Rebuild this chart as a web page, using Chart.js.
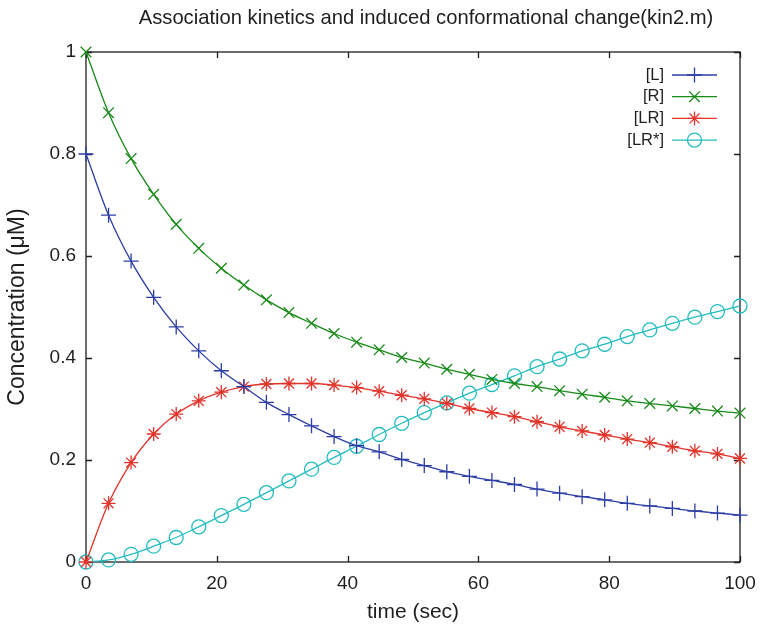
<!DOCTYPE html>
<html>
<head>
<meta charset="utf-8">
<title>Association kinetics</title>
<script src="https://cdn.jsdelivr.net/npm/chart.js@4/dist/chart.umd.min.js"></script>
<style>
  html, body { margin: 0; padding: 0; background: #fff; }
  canvas { display: block; }
</style>
</head>
<body>
<canvas id="kin" width="760" height="627"></canvas>
<script>
// Simulation output of kin2.m: sampled time points (s) and concentrations (µM)
const timeSec = [0, 3.448, 6.897, 10.345, 13.793, 17.241, 20.690, 24.138, 27.586, 31.034,
  34.483, 37.931, 41.379, 44.828, 48.276, 51.724, 55.172, 58.621, 62.069, 65.517,
  68.966, 72.414, 75.862, 79.310, 82.759, 86.207, 89.655, 93.103, 96.552, 100];

const concL = [0.800, 0.680, 0.590, 0.519, 0.461, 0.414, 0.375, 0.344, 0.313, 0.289,
  0.267, 0.246, 0.228, 0.216, 0.201, 0.189, 0.177, 0.168, 0.160, 0.152,
  0.143, 0.135, 0.128, 0.122, 0.115, 0.110, 0.105, 0.100, 0.096, 0.092];

const concR = [1.000, 0.881, 0.791, 0.721, 0.662, 0.615, 0.576, 0.543, 0.514, 0.489,
  0.468, 0.448, 0.431, 0.416, 0.401, 0.390, 0.378, 0.368, 0.358, 0.350,
  0.344, 0.336, 0.329, 0.323, 0.316, 0.311, 0.306, 0.301, 0.296, 0.292];

const concLR = [0.000, 0.115, 0.195, 0.251, 0.290, 0.316, 0.333, 0.344, 0.349, 0.350,
  0.350, 0.347, 0.342, 0.335, 0.327, 0.320, 0.311, 0.301, 0.293, 0.285,
  0.275, 0.265, 0.257, 0.249, 0.241, 0.234, 0.226, 0.218, 0.212, 0.203];

const concLRstar = [0.000, 0.004, 0.015, 0.031, 0.048, 0.069, 0.091, 0.113, 0.136, 0.159,
  0.182, 0.205, 0.227, 0.250, 0.272, 0.293, 0.312, 0.331, 0.348, 0.365,
  0.383, 0.398, 0.414, 0.427, 0.442, 0.455, 0.468, 0.480, 0.491, 0.502];

const seriesNames = ['[L]', '[R]', '[LR]', '[LR*]'];
const xTicks = [0, 20, 40, 60, 80, 100];
const yTicks = [0, 0.2, 0.4, 0.6, 0.8, 1];
const chartTitle = 'Association kinetics and induced conformational change(kin2.m)';

const FONT = '"Liberation Sans", Arial, Helvetica, sans-serif';
const INK = '#1e1e1e';

function pairs(ys) { return timeSec.map((t, i) => ({ x: t, y: ys[i] })); }

function series(label, ys, color, style, radius) {
  return {
    label, data: pairs(ys),
    borderColor: color, backgroundColor: color,
    borderWidth: 1.3,
    pointStyle: style, pointRadius: radius, pointHoverRadius: radius,
    pointBorderColor: color, pointBackgroundColor: 'rgba(0,0,0,0)',
    pointBorderWidth: 1.3,
    cubicInterpolationMode: 'monotone',
    clip: false, fill: false
  };
}

// Title line above the plot box
const headingPlugin = {
  id: 'heading',
  afterDraw(chart) {
    const { ctx, chartArea: a } = chart;
    ctx.save();
    ctx.font = '20.2px ' + FONT;
    ctx.fillStyle = INK;
    ctx.textAlign = 'center';
    ctx.textBaseline = 'middle';
    ctx.fillText(chartTitle, (a.left + a.right) / 2 + 13, 18);
    ctx.restore();
  }
};

// Boxed frame with inward tick marks on all four sides
const framePlugin = {
  id: 'frame',
  beforeDatasetsDraw(chart) {
    const { ctx, chartArea: a, scales: { x, y } } = chart;
    const len = 6;
    ctx.save();
    ctx.strokeStyle = INK;
    ctx.lineWidth = 1.3;
    ctx.strokeRect(a.left, a.top, a.right - a.left, a.bottom - a.top);
    ctx.beginPath();
    xTicks.forEach(v => {
      const px = Math.round(x.getPixelForValue(v)) + 0.5;
      ctx.moveTo(px, a.bottom); ctx.lineTo(px, a.bottom - len);
      ctx.moveTo(px, a.top); ctx.lineTo(px, a.top + len);
    });
    yTicks.forEach(v => {
      const py = Math.round(y.getPixelForValue(v)) + 0.5;
      ctx.moveTo(a.left, py); ctx.lineTo(a.left + len, py);
      ctx.moveTo(a.right, py); ctx.lineTo(a.right - len, py);
    });
    ctx.stroke();
    ctx.restore();
  }
};

// Key in the upper-right corner: right-aligned name, then a line sample with its marker
const keyPlugin = {
  id: 'key',
  afterDatasetsDraw(chart) {
    const { ctx, chartArea: a } = chart;
    const lineEnd = a.right - 23, lineStart = lineEnd - 45;
    const mid = (lineStart + lineEnd) / 2;
    ctx.save();
    ctx.font = '16.5px ' + FONT;
    ctx.textAlign = 'right';
    ctx.textBaseline = 'middle';
    chart.data.datasets.forEach((ds, i) => {
      const yy = a.top + 23 + i * 21.7;
      ctx.fillStyle = INK;
      ctx.fillText(ds.label, lineStart - 8, yy);
      ctx.strokeStyle = ds.borderColor;
      ctx.lineWidth = 1.3;
      ctx.beginPath(); ctx.moveTo(lineStart, yy); ctx.lineTo(lineEnd, yy); ctx.stroke();
      ctx.fillStyle = 'rgba(0,0,0,0)';
      Chart.helpers.drawPoint(ctx, {
        pointStyle: ds.pointStyle, radius: ds.pointRadius, rotation: 0, borderWidth: 1.3
      }, mid, yy);
    });
    ctx.restore();
  }
};

new Chart(document.getElementById('kin'), {
  type: 'line',
  data: {
    datasets: [
      series(seriesNames[0], concL, '#2c3ea6', 'cross', 7.5),
      series(seriesNames[1], concR, '#188a18', 'crossRot', 7.5),
      series(seriesNames[2], concLR, '#e2342a', 'star', 7),
      series(seriesNames[3], concLRstar, '#22bcc0', 'circle', 7)
    ]
  },
  options: {
    responsive: false,
    animation: false,
    layout: { padding: { left: 0, right: 20, top: 52, bottom: 0 } },
    plugins: {
      legend: { display: false },
      tooltip: { enabled: false },
      title: { display: false }
    },
    scales: {
      x: {
        type: 'linear', min: 0, max: 100,
        afterBuildTicks: s => { s.ticks = xTicks.map(v => ({ value: v })); },
        afterFit: s => { s.height = 65; s.paddingLeft = 0; s.paddingRight = 0; },
        grid: { display: false, drawTicks: false },
        border: { display: false },
        ticks: { color: INK, padding: 10, font: { family: FONT, size: 19 } },
        title: {
          display: true, text: 'time (sec)', color: INK,
          font: { family: FONT, size: 21 }, padding: { top: 0, bottom: 2 }
        }
      },
      y: {
        type: 'linear', min: 0, max: 1,
        afterBuildTicks: s => { s.ticks = yTicks.map(v => ({ value: v })); },
        afterFit: s => { s.width = 86; s.paddingTop = 0; s.paddingBottom = 0; },
        grid: { display: false, drawTicks: false },
        border: { display: false },
        ticks: {
          color: INK, padding: 10, font: { family: FONT, size: 19 },
          callback: v => String(Number(v.toFixed(1)))
        },
        title: {
          display: true, text: 'Concentration (μM)', color: INK,
          font: { family: FONT, size: 23 }, padding: { top: 4, bottom: 0 }
        }
      }
    }
  },
  plugins: [framePlugin, keyPlugin, headingPlugin]
});
</script>
</body>
</html>
